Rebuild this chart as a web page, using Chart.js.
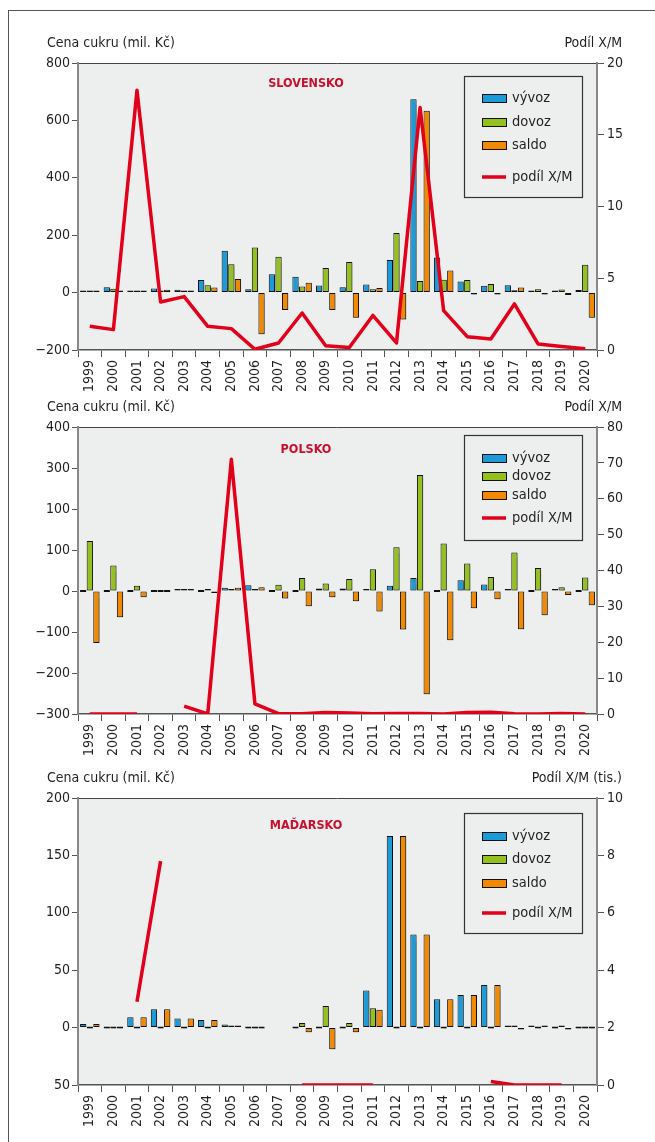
<!DOCTYPE html>
<html lang="cs">
<head>
<meta charset="utf-8">
<title>Cena cukru</title>
<script src="https://cdn.jsdelivr.net/npm/chart.js@4"></script>
<style>
  body { margin: 0; background: #fff; }
  #wrap { position: relative; width: 655px; height: 1142px; overflow: hidden; }
  #frame { position: absolute; left: 8px; top: 10px; width: 660px; height: 1200px;
           border-top: 1.5px solid #555; border-left: 1.5px solid #555; }
  .box { position: absolute; left: 0; width: 655px; }
</style>
</head>
<body>
<div id="wrap">
  <div id="frame"></div>
  <div class="box" style="top:0;height:395px"><canvas id="chartSK"></canvas></div>
  <div class="box" style="top:395px;height:375px"><canvas id="chartPL"></canvas></div>
  <div class="box" style="top:770px;height:372px"><canvas id="chartHU"></canvas></div>
</div>
<script>
// roky
const years = ['1999','2000','2001','2002','2003','2004','2005','2006','2007','2008','2009',
  '2010','2011','2012','2013','2014','2015','2016','2017','2018','2019','2020'];

// Slovensko (mil. Kč, podíl X/M)
const skVyvoz = [1, 19, 1, 14, 10, 44, 146, 12, 64, 55, 25, 19, 28, 114, 674, 122, 39, 24, 26, 5, 3, 9];
const skDovoz = [0.6, 13, 0.1, 4, 3, 26, 99, 157, 125, 21, 86, 107, 12, 208, 40, 45, 44, 30, 8, 12, 11, 97];
const skSaldo = [0.4, 6, 0.9, 10, 7, 18, 47, -145, -61, 34, -61, -88, 16, -94, 634, 77, -5, -6, 18, -7, -8, -88];
const skPodil = [1.65, 1.42, 18.1, 3.35, 3.72, 1.65, 1.49, 0.05, 0.49, 2.58, 0.3, 0.18, 2.41, 0.49,
  16.9, 2.74, 0.93, 0.77, 3.21, 0.42, 0.25, 0.09];
const skLeftTicks = ['\u2212200', '0', '200', '400', '600', '800'];
const skRightTicks = ['0', '5', '10', '15', '20'];

// Polsko
const plVyvoz = [0, 0, 0, 0, 5, 0, 8, 14, 0, 0, 6, 6, 4, 13, 32, 0, 26, 16, 4, 0, 1, 0];
const plDovoz = [122, 62, 13, 0, 2, 3, 0.1, 5, 15, 32, 18, 29, 53, 107, 283, 116, 67, 34, 94, 56, 9, 33];
const plSaldo = [-127, -64, -15, 0, 3, -3, 8, 9, -18, -37, -15, -25, -50, -94, -252, -120, -42, -20, -93, -59, -10, -35];
const plPodil = [0, 0, 0, null, 2.2, 0, 71, 2.8, 0.1, 0.05, 0.4, 0.25, 0.1, 0.15, 0.15, 0.02,
  0.4, 0.5, 0.05, 0.02, 0.15, 0.02];
const plLeftTicks = ['\u2212300', '\u2212200', '\u2212100', '0', '100', '100', '300', '400'];
const plRightTicks = ['0', '10', '20', '30', '40', '50', '60', '70', '80'];

// Madarsko (podil v tis.)
const huVyvoz = [3.2, 0, 9, 16, 8, 6.6, 2.6, 0, null, 0, 0, 0, 32.4, 167, 81, 24.6, 28.3, 37, 0.5, 0.3, 0, 0];
const huDovoz = [0, 0, 0, 0, 0, 0, 1, 0, null, 4, 18.8, 4, 16.8, 0, 0, 0, 0, 0, 1.7, 0, 0.3, 0];
const huSaldo = [3.2, 0, 9, 16, 8, 6.6, 1.6, 0, null, -4, -18.8, -4, 15.6, 167, 81, 24.6, 28.3, 37, -1.2, 0.3, -0.3, 0];
const huPodil = [null, null, 2.9, 7.8, null, null, null, null, null, 0, 0, 0, 0, null, null, null, null,
  0.12, 0, 0, 0, null];
const huLeftTicks = ['50', '0', '50', '100', '150', '200'];
const huRightTicks = ['0', '2', '4', '6', '8', '10'];

const BLUE = '#1b9bd7';
const GREEN = '#94c11f';
const ORANGE = '#f18a00';
const RED = '#e3001b';
const FONT = "'Liberation Sans Narrow', 'DejaVu Sans Condensed', sans-serif";

Chart.defaults.font.family = FONT;
Chart.defaults.font.size = 14;
Chart.defaults.color = '#231f20';

// pozadi grafu, popisky os, nazev zeme a legenda
const decorPlugin = {
  id: 'decor',
  beforeDraw(chart, args, o) {
    const { ctx, chartArea: a } = chart;
    ctx.save();
    ctx.fillStyle = '#edeeee';
    ctx.fillRect(a.left, a.top, a.right - a.left, a.bottom - a.top);
    ctx.strokeStyle = '#444';
    ctx.lineWidth = 1;
    ctx.beginPath();
    ctx.moveTo(a.left, a.top + 0.5);
    ctx.lineTo(a.right, a.top + 0.5);
    ctx.stroke();
    ctx.restore();
  },
  beforeDatasetDraw(chart, args) {
    if (args.meta.type === 'bar') {
      const ctx = chart.ctx;
      ctx.save();
      ctx.shadowColor = 'rgba(0,0,0,0.22)';
      ctx.shadowOffsetX = 1.5;
      ctx.shadowOffsetY = 1.5;
      ctx.shadowBlur = 1.5;
    }
  },
  afterDatasetDraw(chart, args) {
    if (args.meta.type === 'bar') chart.ctx.restore();
  },
  afterDraw(chart, args, o) {
    const { ctx, chartArea: a } = chart;
    ctx.save();
    ctx.textBaseline = 'middle';
    ctx.fillStyle = '#231f20';
    ctx.font = '14px ' + FONT;
    ctx.textAlign = 'left';
    ctx.fillText('Cena cukru (mil. Kč)', 47, a.top - 20);
    ctx.textAlign = 'right';
    ctx.fillText(o.rightTitle, 622, a.top - 20);

    ctx.font = 'bold 12.5px ' + FONT;
    ctx.fillStyle = '#c8102e';
    ctx.textAlign = 'center';
    ctx.fillText(o.country, 306, a.top + o.countryY);

    // legenda
    ctx.fillStyle = '#edeeee';
    ctx.fillRect(464, a.top + o.boxTop, 118, o.boxBottom - o.boxTop);
    ctx.strokeStyle = '#333';
    ctx.lineWidth = 1.2;
    ctx.strokeRect(464.5, a.top + o.boxTop + 0.5, 118, o.boxBottom - o.boxTop);
    ctx.font = '14.5px ' + FONT;
    ctx.textAlign = 'left';
    chart.data.datasets.forEach((ds, i) => {
      const y = a.top + o.rows[ds.legendRow];
      if (ds.type === 'line') {
        ctx.strokeStyle = ds.borderColor;
        ctx.lineWidth = 3.5;
        ctx.beginPath();
        ctx.moveTo(482, y);
        ctx.lineTo(506, y);
        ctx.stroke();
      } else {
        ctx.fillStyle = ds.backgroundColor;
        ctx.fillRect(482, y - 4, 24, 8);
        ctx.strokeStyle = '#111';
        ctx.lineWidth = 1;
        ctx.strokeRect(482.5, y - 3.5, 24, 8);
      }
      ctx.fillStyle = '#231f20';
      ctx.fillText(ds.label, 512, y);
    });
    ctx.restore();
  }
};

function makeChart(id, d) {
  const barDs = (label, data, color, row) => ({
    type: 'bar', label, data, backgroundColor: color, borderColor: '#111',
    borderWidth: 1, borderSkipped: false, minBarLength: 2, yAxisID: 'y', order: 1,
    categoryPercentage: 0.84, barPercentage: 0.95, legendRow: row
  });
  return new Chart(document.getElementById(id), {
    data: {
      labels: years,
      datasets: [
        barDs('vývoz', d.vyvoz, BLUE, 0),
        barDs('dovoz', d.dovoz, GREEN, 1),
        barDs('saldo', d.saldo, ORANGE, 2),
        {
          type: 'line', label: 'podíl X/M', data: d.podil, borderColor: RED, borderWidth: 3.5,
          borderJoinStyle: 'round', pointRadius: 0, spanGaps: false, yAxisID: 'y1', order: 0,
          legendRow: 3
        }
      ]
    },
    options: {
      responsive: true,
      maintainAspectRatio: false,
      animation: false,
      layout: { padding: { top: d.padTop, bottom: d.padBottom, left: 0, right: 0 } },
      plugins: {
        legend: { display: false },
        tooltip: { enabled: false },
        decor: d.decor
      },
      scales: {
        x: {
          offset: true,
          grid: { offset: true, drawOnChartArea: false, tickLength: 7, color: '#555' },
          border: { color: '#555', width: 1.5 },
          ticks: { autoSkip: false, minRotation: 90, maxRotation: 90, padding: 3 },
          afterFit: s => { s.height = 45; }
        },
        y: {
          position: 'left',
          min: d.left.min, max: d.left.max,
          grid: { drawOnChartArea: false, tickLength: 6, color: '#555' },
          border: { color: '#888', width: 2 },
          ticks: { stepSize: d.left.step, padding: 2, callback: (v, i) => d.left.labels[i] },
          afterFit: s => { s.width = 78; }
        },
        y1: {
          position: 'right',
          min: d.right.min, max: d.right.max,
          grid: { drawOnChartArea: false, tickLength: 7, color: '#555' },
          border: { color: '#888', width: 2 },
          ticks: { stepSize: d.right.step, padding: 3, callback: (v, i) => d.right.labels[i] },
          afterFit: s => { s.width = 58; }
        }
      }
    },
    plugins: [decorPlugin]
  });
}

makeChart('chartSK', {
  vyvoz: skVyvoz, dovoz: skDovoz, saldo: skSaldo, podil: skPodil,
  padTop: 63, padBottom: 0,
  left: { min: -200, max: 800, step: 200, labels: skLeftTicks },
  right: { min: 0, max: 20, step: 5, labels: skRightTicks },
  decor: { rightTitle: 'Podíl X/M', country: 'SLOVENSKO', countryY: 21,
    boxTop: 13, boxBottom: 134, rows: [35, 59, 82, 114] }
});

makeChart('chartPL', {
  vyvoz: plVyvoz, dovoz: plDovoz, saldo: plSaldo, podil: plPodil,
  padTop: 32, padBottom: 11,
  left: { min: -300, max: 400, step: 100, labels: plLeftTicks },
  right: { min: 0, max: 80, step: 10, labels: plRightTicks },
  decor: { rightTitle: 'Podíl X/M', country: 'POLSKO', countryY: 23,
    boxTop: 8, boxBottom: 113, rows: [31, 49, 68, 91] }
});

makeChart('chartHU', {
  vyvoz: huVyvoz, dovoz: huDovoz, saldo: huSaldo, podil: huPodil,
  padTop: 28, padBottom: 12,
  left: { min: -50, max: 200, step: 50, labels: huLeftTicks },
  right: { min: 0, max: 10, step: 2, labels: huRightTicks },
  decor: { rightTitle: 'Podíl X/M (tis.)', country: 'MAĎARSKO', countryY: 28,
    boxTop: 15, boxBottom: 135, rows: [38, 61, 85, 115] }
});
</script>
</body>
</html>
